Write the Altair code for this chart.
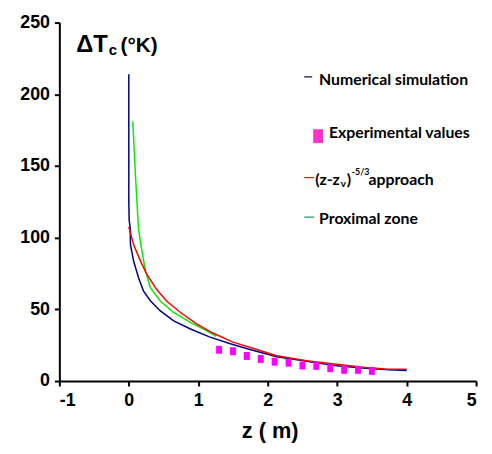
import altair as alt
import pandas as pd

# ---- data ----
num_z = [0.0, 0.0, 0.0, 0.005, 0.02, 0.024, 0.07, 0.14, 0.21, 0.31, 0.45, 0.64, 0.88, 1.16, 1.45, 1.73, 2.13, 2.56, 2.99, 3.41, 3.74, 4.0]
num_t = [214, 136, 126, 112, 107, 95, 83.5, 72, 62.9, 56, 49.1, 42.2, 36.5, 30.8, 26.2, 22.2, 17.0, 13.8, 10.6, 8.9, 7.8, 7.3]

app_z = [0.0, 0.07, 0.17, 0.26, 0.40, 0.54, 0.74, 0.97, 1.21, 1.49, 1.75, 2.13, 2.56, 2.99, 3.41, 3.74, 4.0]
app_t = [107.6, 95, 83.5, 74.4, 64, 56, 48, 40, 33.5, 27.3, 23.4, 17.6, 14.2, 11.7, 9.4, 8.3, 8.3]

prox_z = [0.057, 0.095, 0.14, 0.19, 0.24, 0.31, 0.45, 0.64, 0.88, 1.11, 1.26]
prox_t = [181, 144, 106, 90.4, 76.7, 65.2, 56, 48, 41.1, 35.3, 31.2]

exp_z = [1.3, 1.5, 1.7, 1.9, 2.1, 2.3, 2.5, 2.7, 2.9, 3.1, 3.3, 3.5]
exp_t = [21.8, 20.8, 17.5, 15.4, 13.5, 12.8, 10.8, 10.6, 9.0, 7.8, 7.8, 7.1]

series_names = ["Numerical simulation", "Proximal zone", "(z-zv)^-5/3 approach"]
series_colors = ["#000080", "#00ee00", "#ff0000"]

x_ticks = [-1, 0, 1, 2, 3, 4, 5]
y_ticks = [0, 50, 100, 150, 200, 250]

rows = []
for name, zs, ts in [(series_names[0], num_z, num_t),
                     (series_names[1], prox_z, prox_t),
                     (series_names[2], app_z, app_t)]:
    for i, (z, t) in enumerate(zip(zs, ts)):
        rows.append({"series": name, "z": z, "t": t, "i": i})
lines_df = pd.DataFrame(rows)
exp_df = pd.DataFrame({"z": exp_z, "t": exp_t})

FONT_AX = "Liberation Sans"
FONT_LG = "Lato"
LG = 16

xscale = alt.Scale(domain=[-1, 5], nice=False, zero=False)
yscale = alt.Scale(domain=[0, 250], nice=False)

lines = alt.Chart(lines_df).mark_line(strokeWidth=1.5).encode(
    x=alt.X("z:Q", scale=xscale,
            axis=alt.Axis(values=x_ticks, title="z ( m)", titleFont=FONT_AX,
                          titleFontSize=22, titleFontWeight="bold", titleColor="black",
                          titleX=213, titleY=57, titleBaseline="alphabetic",
                          titleAlign="center", labelPadding=6,
                          labelExpr="'' + datum.value")),
    y=alt.Y("t:Q", scale=yscale,
            axis=alt.Axis(values=y_ticks, title=None, labelPadding=5,
                          labelExpr="'' + datum.value")),
    color=alt.Color("series:N", scale=alt.Scale(domain=series_names, range=series_colors), legend=None),
    order="i:Q",
)

exp_shape = "M-0.75,-1L0.75,-1L0.75,1L-0.75,1Z"
exp_pts = alt.Chart(exp_df).mark_point(shape=exp_shape, filled=True, size=64,
                                       color="#ff00ff", opacity=1, strokeWidth=0).encode(
    x=alt.X("z:Q", scale=xscale),
    y=alt.Y("t:Q", scale=yscale),
)

one = pd.DataFrame({"a": [0]})


def txt(s, x, y, size, font, weight="bold", align="left", baseline="alphabetic", color="black"):
    return alt.Chart(one).mark_text(text=s, font=font, fontSize=size, fontWeight=weight,
                                    align=align, baseline=baseline, color=color).encode(
        x=alt.value(x), y=alt.value(y))


def seg(x1, x2, y, color, w=1.2):
    return alt.Chart(one).mark_rule(color=color, strokeWidth=w).encode(
        x=alt.value(x1), x2=alt.value(x2), y=alt.value(y))


legend_layers = [
    seg(248, 256, 55, "#000040"),
    txt("Numerical simulation", 263, 63, LG, FONT_LG),
    alt.Chart(one).mark_rect(color="#ff33cc").encode(
        x=alt.value(257), x2=alt.value(267), y=alt.value(108), y2=alt.value(122)),
    txt("Experimental values", 273, 117, LG, FONT_LG),
    seg(248, 258, 157, "#ff0000"),
    txt("(z-z", 259, 164, LG, FONT_LG),
    txt("v", 285, 167, 10, FONT_LG),
    txt(")", 291, 164, LG, FONT_LG),
    txt("-5/3", 296, 154, 9, FONT_LG),
    txt("approach", 313, 164, LG, FONT_LG),
    seg(248, 258, 197, "#1a9850"),
    txt("Proximal zone", 263, 204, LG, FONT_LG),
    # y-axis title
    txt("\u0394T", 17, 30, 24, FONT_AX),
    txt("c", 50, 33, 15, FONT_AX),
    txt("(\u00b0K)", 62, 30, 21, FONT_AX),
]

chart = alt.layer(lines, exp_pts, *legend_layers).properties(
    width=422, height=363,
    autosize=alt.AutoSizeParams(type="none"),
    padding={"left": 52, "top": 12, "right": 8, "bottom": 63},
).configure_axis(
    grid=False, domainColor="black", domainWidth=2, tickColor="black", tickWidth=2,
    tickSize=5, labelFont=FONT_AX, labelFontSize=18, labelFontWeight="bold",
    labelColor="black",
).configure_view(stroke=None)

chart.save("out.html", embed_options={"renderer": "svg", "actions": False})
